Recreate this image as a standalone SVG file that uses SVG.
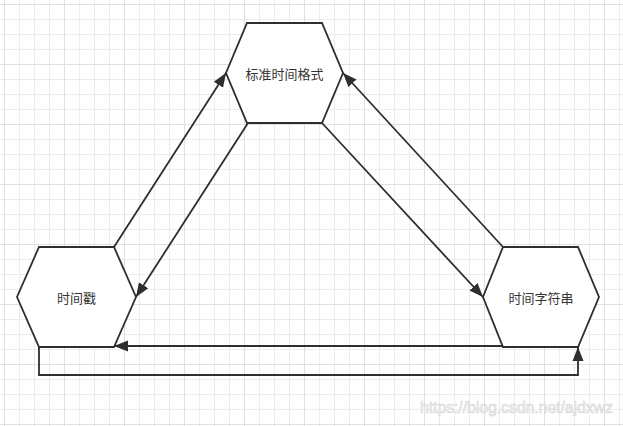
<svg xmlns="http://www.w3.org/2000/svg" width="623" height="426" viewBox="0 0 623 426">
<defs>
<pattern id="minor" x="4" y="4" width="15" height="15" patternUnits="userSpaceOnUse">
<path d="M0.5,0 V15 M0,0.5 H15" stroke="#ececec" stroke-width="1" fill="none"/>
</pattern>
<pattern id="major" x="4" y="4" width="60" height="60" patternUnits="userSpaceOnUse">
<path d="M0.5,0 V60 M0,0.5 H60" stroke="#e0e0e0" stroke-width="1" fill="none"/>
</pattern>
<marker id="arr" markerUnits="userSpaceOnUse" markerWidth="15" markerHeight="12" refX="14" refY="5.5" orient="auto" viewBox="0 0 15 11">
<path d="M0,0 L14,5.5 L0,11 Z" fill="#2e2e2e"/>
</marker>
</defs>
<style>
.hex{fill:#fff;stroke:#2e2e2e;stroke-width:1.8;stroke-linejoin:miter}
.lbl{font-family:"Noto Sans CJK SC","Noto Sans",sans-serif;font-size:13px;fill:#333;text-anchor:middle;dominant-baseline:central}
.edge{fill:none;stroke:#2e2e2e;stroke-width:1.8}
</style>
<rect width="623" height="426" fill="#fff"/>
<rect width="623" height="426" fill="url(#minor)"/>
<rect width="623" height="426" fill="url(#major)"/>
<g id="connectors">
<path class="edge" d="M114,247 L226,73" marker-end="url(#arr)"/>
<path class="edge" d="M248,123 L136,297" marker-end="url(#arr)"/>
<path class="edge" d="M322,123 L483,297" marker-end="url(#arr)"/>
<path class="edge" d="M503,247 L343,73" marker-end="url(#arr)"/>
<path class="edge" d="M503,346 L114,346" marker-end="url(#arr)"/>
<path class="edge" d="M39,347 L39,375 L578,375 L578,347" marker-end="url(#arr)"/>
</g>
<g id="node-standard">
<polygon class="hex" points="247,23 322,23 343,73 322,123 247,123 226,73"/>
<text class="lbl" x="284.5" y="73">标准时间格式</text>
</g>
<g id="node-timestamp">
<polygon class="hex" points="39,247 114,247 136,297 114,347 39,347 17,297"/>
<text class="lbl" x="76.5" y="297">时间戳</text>
</g>
<g id="node-string">
<polygon class="hex" points="503,247 578,247 599,297 578,347 503,347 483,297"/>
<text class="lbl" x="541" y="297">时间字符串</text>
</g>
<text x="420" y="413" font-family="Liberation Sans, Arial, sans-serif" font-size="16" textLength="193" fill="#eeeeee" stroke="#d4d4d4" stroke-width="0.5">https://blog.csdn.net/ajdxwz</text>
</svg>
